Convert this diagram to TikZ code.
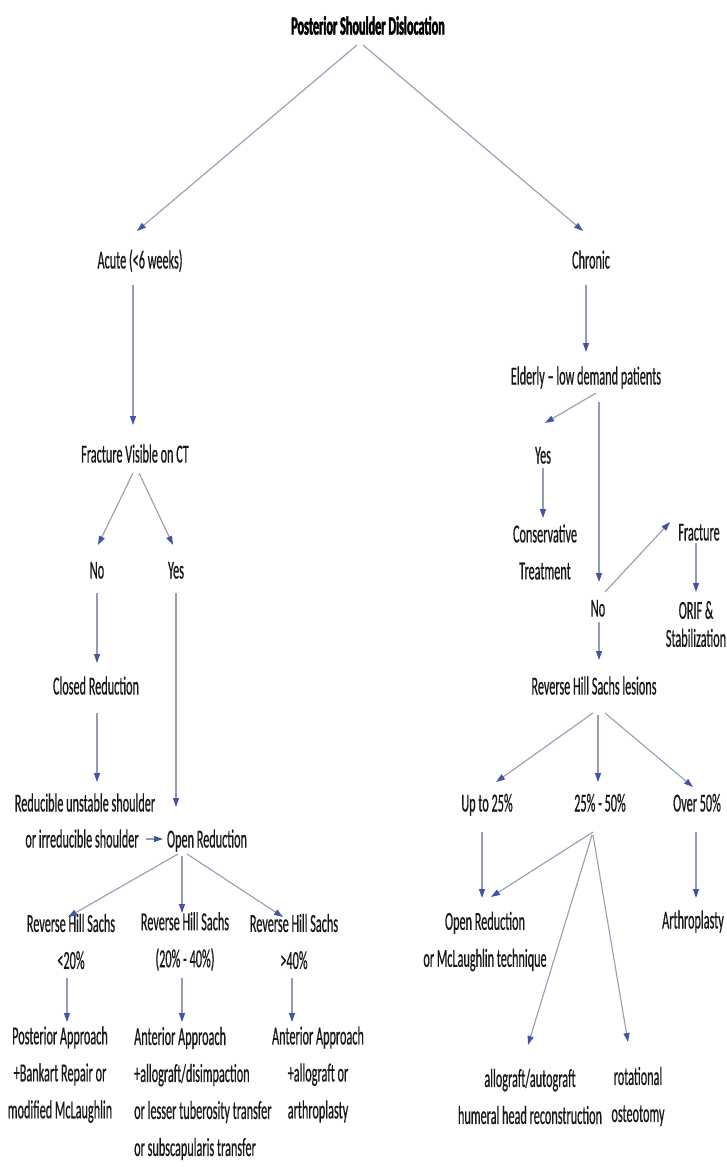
\documentclass[tikz,border=0pt]{standalone}
\usepackage{fontspec}
\setmainfont{Carlito}[FakeStretch=0.47, UprightFeatures={FakeBold=0.5}, BoldFeatures={FakeBold=1.8}]
\usetikzlibrary{arrows.meta,calc}
\definecolor{linec}{RGB}{150,156,178}
\definecolor{headc}{RGB}{68,84,165}
\definecolor{txt}{RGB}{25,25,25}
\begin{document}
\begin{tikzpicture}[x=1pt,y=-1pt,
  lbl/.style={font=\fontsize{26}{37}\selectfont, text=txt, inner sep=0pt, align=center},
  one/.style={lbl, text height=17pt, text depth=4pt},
  arr/.style={draw=linec, line width=1.1pt, -{Triangle[length=9pt,width=6pt,color=headc]}}]
\useasboundingbox (0,0) rectangle (726,1167);
\fill[white] (0,0) rectangle (726,1167);
% nodes, left branch
\node[one, font=\fontsize{26}{37}\selectfont\bfseries, text=black] (T) at (368,28) {Posterior Shoulder Dislocation};
\node[one] (A) at (140,262) {Acute (<6 weeks)};
\node[one] (C) at (591,262) {Chronic};
\node[one] (F) at (135,456) {Fracture Visible on CT};
\node[one] (N1) at (97,572) {No};
\node[one] (Y1) at (176,572) {Yes};
\node[one] (CR) at (96,688) {Closed Reduction};
\node[one] (R1) at (85,805) {Reducible unstable shoulder};
\node[one] (R2) at (82,841) {or irreducible shoulder};
\node[one] (OR) at (207,841) {Open Reduction};
\node[lbl] (H1) at (71,941.5) {Reverse Hill Sachs\\<20\%};
\node[lbl] (H2) at (185,941.5) {Reverse Hill Sachs\\(20\% - 40\%)};
\node[lbl] (H3) at (294,941.5) {Reverse Hill Sachs\\>40\%};
\node[lbl] (P) at (60,1074.5) {Posterior Approach\\+Bankart Repair or\\modified McLaughlin};
\node[lbl, align=left, anchor=west] (AM) at (134,1093.5) {Anterior Approach\\+allograft/disimpaction\\or lesser tuberosity transfer\\or subscapularis transfer};
\node[lbl] (AR) at (318,1074.5) {Anterior Approach\\+allograft or\\arthroplasty};
% right branch
\node[one] (E) at (586,378) {Elderly – low demand patients};
\node[one] (Y2) at (543,457) {Yes};
\node[lbl] (CT) at (545,552) {Conservative\\Treatment};
\node[one] (F2) at (699,534) {Fracture};
\node[one] (N2) at (598,610) {No};
\node[lbl, font=\fontsize{26}{28}\selectfont] (O) at (696,624) {ORIF \&\\Stabilization};
\node[one] (L) at (594,688) {Reverse Hill Sachs lesions};
\node[one] (U) at (487,805) {Up to 25\%};
\node[one] (M) at (600,805) {25\% - 50\%};
\node[one] (V) at (697,805) {Over 50\%};
\node[lbl] (OR2) at (485,941.5) {Open Reduction\\or McLaughlin technique};
\node[one] (AT) at (693,922) {Arthroplasty};
\node[lbl] (AG) at (530,1096.5) {allograft/autograft\\humeral head reconstruction};
\node[lbl] (RO) at (638,1096.5) {rotational\\osteotomy};
% connectors
\draw[arr] ($(T)+(-11,17)$) -- ($(A)+(-3,-31)$);
\draw[arr] ($(T)+(-5,17)$) -- ($(C)+(-8,-31)$);
\draw[arr] ($(A)+(-7,23)$) -- ($(F)+(-2,-31)$);
\draw[arr] ($(C)+(-5,23)$) -- ($(E)+(0,-26)$);
\draw[arr] ($(F)+(-2,17)$) -- ($(N1)+(1,-27)$);
\draw[arr] ($(F)+(4,17)$) -- ($(Y1)+(-3,-27)$);
\draw[arr] ($(N1)+(0,21)$) -- ($(CR)+(1,-25)$);
\draw[arr] ($(Y1)+(0,21)$) -- ($(OR)+(-31,-34)$);
\draw[arr] ($(CR)+(1,25)$) -- ($(R1)+(12,-23)$);
\draw[arr] ($(R2)+(64,-2)$) -- ($(OR)+(-44,-2)$);
\draw[arr] ($(OR)+(-29,13)$) -- ($(H1)+(-3,-24.5)$);
\draw[arr] ($(OR)+(-25,15)$) -- ($(H2)+(-3,-28.5)$);
\draw[arr] ($(OR)+(-20,13)$) -- ($(H3)+(-11,-24.5)$);
\draw[arr] ($(H1)+(-4,36.5)$) -- ($(P)+(7,-52.5)$);
\draw[arr] ($(H2)+(-3,36.5)$) -- ($(AM.west)+(48,-71.5)$);
\draw[arr] ($(H3)+(-2,36.5)$) -- ($(AR)+(-26,-52.5)$);
\draw[arr] ($(E)+(10,15)$) -- ($(Y2)+(2,-34)$);
\draw[arr] ($(E)+(13,24)$) -- ($(N2)+(1,-28)$);
\draw[arr] ($(Y2)+(0,11)$) -- ($(CT)+(-2,-34)$);
\draw[arr] ($(N2)+(7,-18)$) -- ($(F2)+(-29,-12)$);
\draw[arr] ($(F2)+(-3,9)$) -- ($(O)+(0,-32)$);
\draw[arr] ($(N2)+(1,12)$) -- ($(L)+(5,-28)$);
\draw[arr] ($(L)+(-1,25)$) -- ($(U)+(9,-23)$);
\draw[arr] ($(L)+(4,27)$) -- ($(M)+(-2,-23)$);
\draw[arr] ($(L)+(11,25)$) -- ($(V)+(-4,-18)$);
\draw[arr] ($(U)+(-5,27)$) -- ($(OR2)+(-3,-43.5)$);
\draw[arr] ($(M)+(-7,27)$) -- ($(OR2)+(6,-44.5)$);
\draw[arr] ($(M)+(-8,30)$) -- ($(AG)+(-2,-51.5)$);
\draw[arr] ($(M)+(-7,30)$) -- ($(RO)+(-10,-54.5)$);
\draw[arr] ($(V)+(-1,27)$) -- ($(AT)+(3,-24)$);
\end{tikzpicture}
\end{document}
